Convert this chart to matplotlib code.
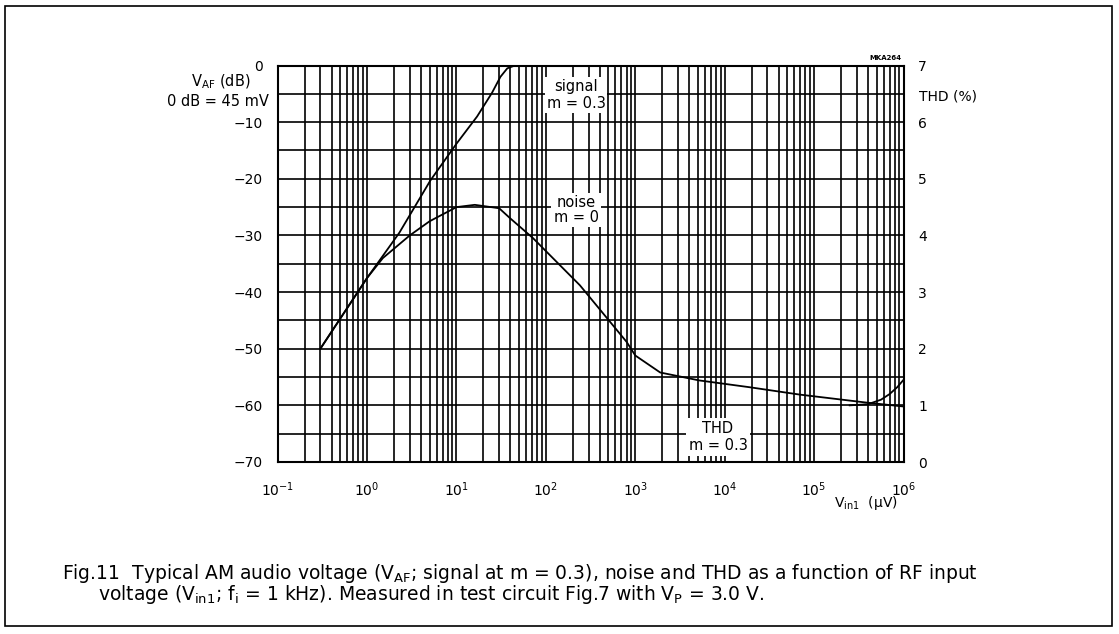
import numpy as np
import matplotlib
matplotlib.use("Agg")
import matplotlib.pyplot as plt
from matplotlib.ticker import LogLocator, FixedLocator, MultipleLocator, NullFormatter
from matplotlib.patches import Rectangle

plt.rcParams["mathtext.default"] = "regular"
plt.rcParams["font.family"] = "DejaVu Sans"

# ── Data ─────────────────────────────────────────────────────────────────────
signal_vin = [0.3, 1.0, 2.3, 5.1, 10, 17, 25, 31, 37, 45, 1e6]          # µV
signal_db  = [-50, -37.5, -29.5, -20.3, -13.8, -9, -4.8, -2.0, -0.5, 0, 0]

noise_vin = [0.3, 1.0, 1.5, 3, 5, 10, 16, 30, 40, 72, 240, 800, 1000,
             1900, 5200, 19000, 69000, 380000, 1e6]
noise_db  = [-50, -37.5, -34, -30, -27.5, -25, -24.6, -25.2, -27, -30.5,
             -38.8, -48.8, -51.2, -54.2, -55.6, -56.8, -58.1, -59.5, -60.2]

thd_vin = [250000, 400000, 560000, 700000, 850000, 1e6]
thd_pct = [1.0, 1.02, 1.1, 1.2, 1.32, 1.45]

y_ticks   = [0, -10, -20, -30, -40, -50, -60, -70]
thd_ticks = [0, 1, 2, 3, 4, 5, 6, 7]

caption1 = "Fig.11  Typical AM audio voltage (V$_{AF}$; signal at m = 0.3), noise and THD as a function of RF input"
caption2 = "voltage (V$_{in1}$; f$_{i}$ = 1 kHz). Measured in test circuit Fig.7 with V$_{P}$ = 3.0 V."

# ── Figure ───────────────────────────────────────────────────────────────────
W, H = 1119, 634
fig = plt.figure(figsize=(W / 100, H / 100), dpi=100)
fig.patch.set_facecolor("white")

def fx(px):
    return px / W

def fy(py):
    return 1 - py / H

# outer frame
fig.add_artist(Rectangle((fx(5), fy(626)), fx(1112) - fx(5), fy(6) - fy(626),
                         transform=fig.transFigure, fill=False, lw=1.2, color="black"))

ax = fig.add_axes([fx(277.7), fy(462), fx(903.5) - fx(277.7), fy(65.5) - fy(462)])
ax.set_xscale("log")
ax.set_xlim(0.1, 1e6)
ax.set_ylim(-70, 0)

ax.xaxis.set_major_locator(LogLocator(base=10, numticks=20))
ax.xaxis.set_minor_locator(LogLocator(base=10, subs=np.arange(2, 10), numticks=20))
ax.xaxis.set_minor_formatter(NullFormatter())
ax.yaxis.set_major_locator(FixedLocator(y_ticks))
ax.yaxis.set_minor_locator(MultipleLocator(5))

ax.grid(which="both", color="black", lw=1.2)
ax.set_axisbelow(True)
for s in ax.spines.values():
    s.set_linewidth(1.5)
ax.tick_params(which="both", length=0, labelsize=10)
ax.tick_params(axis="y", pad=10.5)
ax.tick_params(axis="x", pad=13)
ax.set_yticklabels([str(v).replace("-", "\u2212") for v in y_ticks])

ax.plot(signal_vin, signal_db, color="black", lw=1.3, zorder=3)
ax.plot(noise_vin, noise_db, color="black", lw=1.3, zorder=3)

ax2 = ax.twinx()
ax2.set_ylim(0, 7)
ax2.yaxis.set_major_locator(FixedLocator(thd_ticks))
ax2.tick_params(length=0, labelsize=10, pad=10.5)
for s in ax2.spines.values():
    s.set_visible(False)
ax2.plot(thd_vin, thd_pct, color="black", lw=1.3, zorder=3)

# curve labels with white backing
box = dict(facecolor="white", edgecolor="none", pad=1.5)
fig.text(fx(576), fy(95), "signal\nm = 0.3", ha="center", va="center", fontsize=10.5,
         linespacing=1.2, bbox=box, zorder=10)
fig.text(fx(576), fy(210), "noise\nm = 0", ha="center", va="center", fontsize=10.5,
         linespacing=1.05, bbox=box, zorder=10)
fig.text(fx(718), fy(437), "THD\nm = 0.3", ha="center", va="center", fontsize=10.5,
         linespacing=1.15, bbox=dict(facecolor="white", edgecolor="none", pad=2), zorder=10)

# axis annotations
fig.text(fx(221), fy(82), "V$_{AF}$ (dB)", ha="center", va="center", fontsize=10.5)
fig.text(fx(218), fy(102), "0 dB = 45 mV", ha="center", va="center", fontsize=10.5)
fig.text(fx(919), fy(97), "THD (%)", ha="left", va="center", fontsize=10)
fig.text(fx(902), fy(58), "MKA264", ha="right", va="center", fontsize=5, fontweight="bold")
fig.text(fx(898), fy(503), "V$_{in1}$  (\u00b5V)", ha="right", va="center", fontsize=10)

# caption
fig.text(fx(62), fy(579), caption1, ha="left", va="baseline", fontsize=13.5)
fig.text(fx(98), fy(600), caption2, ha="left", va="baseline", fontsize=13.5)

fig.savefig("out.png", dpi=100)
